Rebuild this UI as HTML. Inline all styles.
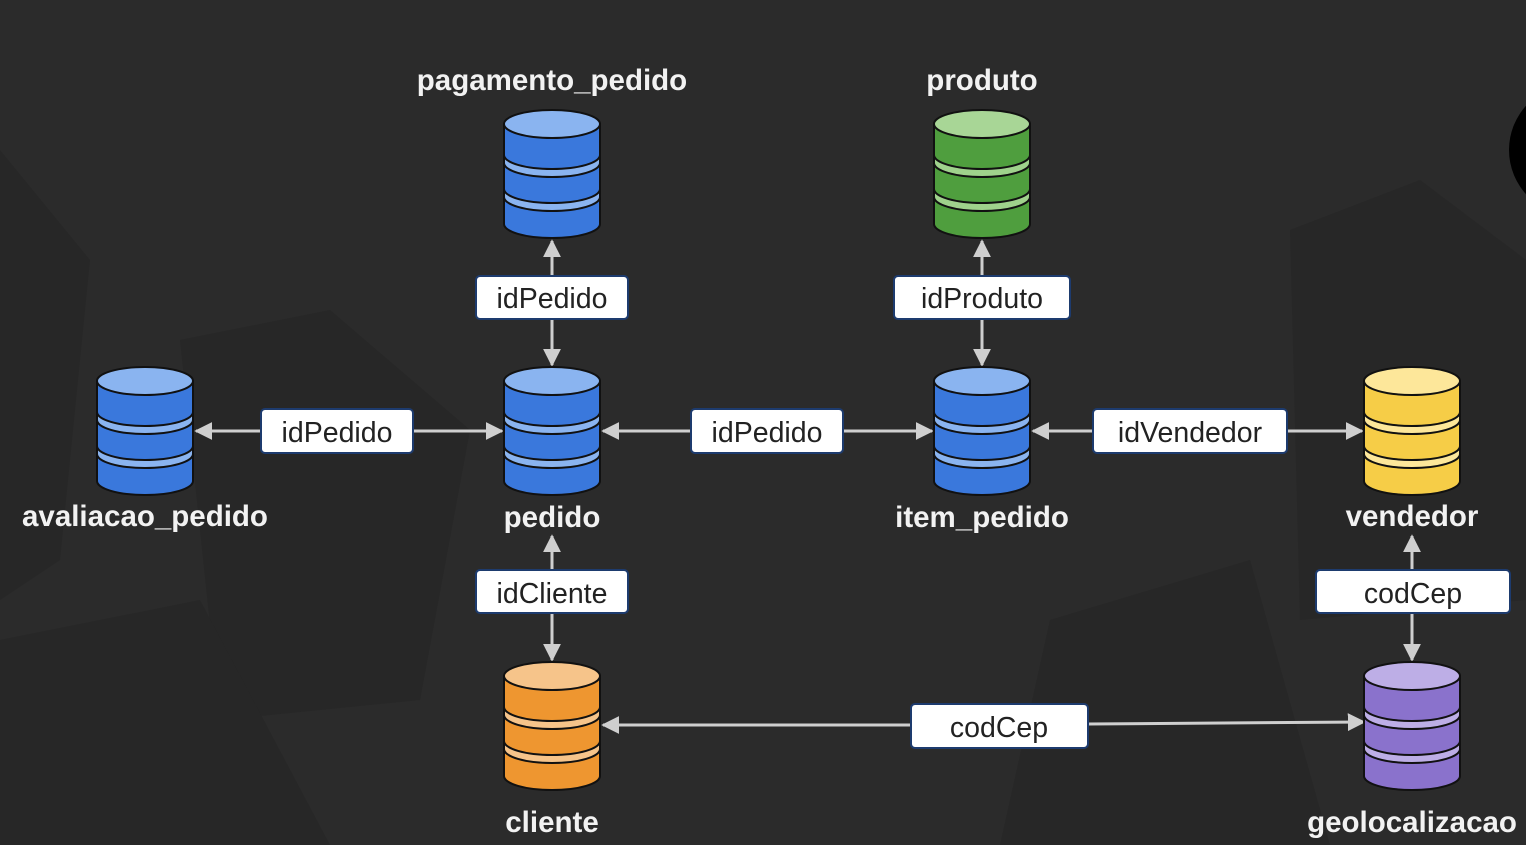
<!DOCTYPE html>
<html><head><meta charset="utf-8"><style>
html,body{margin:0;padding:0;background:#2b2b2b;width:1526px;height:845px;overflow:hidden}
svg{display:block}
.t{font-family:"Liberation Sans",sans-serif;font-weight:bold;font-size:29.5px;fill:#f2f2f2;text-anchor:middle}
.l{font-family:"Liberation Sans",sans-serif;font-size:28.5px;fill:#222;text-anchor:middle}
.b{fill:#fff;stroke:#1d3b6e;stroke-width:2}
.c{stroke:#cfcfcf;stroke-width:3;fill:none}
</style></head><body>
<svg width="1526" height="845" viewBox="0 0 1526 845">
<defs>
<marker id="a" viewBox="0 0 10 10" refX="9" refY="5" markerWidth="6" markerHeight="6" orient="auto-start-reverse"><path d="M0,0 L10,5 L0,10 Z" fill="#cfcfcf"/></marker>
</defs>
<rect width="1526" height="845" fill="#2b2b2b"/>
<g fill="#272727">
<polygon points="0,150 90,260 60,560 0,600"/>
<polygon points="180,340 330,310 470,430 420,700 220,720"/>
<polygon points="1290,230 1420,180 1526,260 1526,600 1300,620"/>
<polygon points="0,640 200,600 330,845 0,845"/>
<polygon points="1050,620 1250,560 1330,845 1000,845"/>
</g>
<circle cx="1575" cy="150" r="66" fill="#000"/>

<g class="c">
<line x1="552" y1="276" x2="552" y2="241" marker-end="url(#a)"/>
<line x1="552" y1="319" x2="552" y2="365" marker-end="url(#a)"/>
<line x1="982" y1="276" x2="982" y2="241" marker-end="url(#a)"/>
<line x1="982" y1="319" x2="982" y2="365" marker-end="url(#a)"/>
<line x1="261" y1="431" x2="196" y2="431" marker-end="url(#a)"/>
<line x1="413" y1="431" x2="502" y2="431" marker-end="url(#a)"/>
<line x1="691" y1="431" x2="603" y2="431" marker-end="url(#a)"/>
<line x1="843" y1="431" x2="932" y2="431" marker-end="url(#a)"/>
<line x1="1093" y1="431" x2="1033" y2="431" marker-end="url(#a)"/>
<line x1="1287" y1="431" x2="1362" y2="431" marker-end="url(#a)"/>
<line x1="552" y1="570" x2="552" y2="536" marker-end="url(#a)"/>
<line x1="552" y1="613" x2="552" y2="660" marker-end="url(#a)"/>
<line x1="1412" y1="570" x2="1412" y2="536" marker-end="url(#a)"/>
<line x1="1412" y1="613" x2="1412" y2="660" marker-end="url(#a)"/>
<line x1="911" y1="725" x2="603" y2="725" marker-end="url(#a)"/>
<line x1="1088" y1="724" x2="1364" y2="722" marker-end="url(#a)"/>
</g>

<g stroke="#111" stroke-width="2">
<g transform="translate(552,110)" fill="#3a78dc"><path d="M-48,14 V114 A48,14 0 0 0 48,114 V14 Z"/><path d="M-48,45 A48,14 0 0 0 48,45 V53 A48,14 0 0 1 -48,53 Z" fill="#8ab4f0"/><path d="M-48,79 A48,14 0 0 0 48,79 V87 A48,14 0 0 1 -48,87 Z" fill="#8ab4f0"/><ellipse cx="0" cy="14" rx="48" ry="14" fill="#8ab4f0"/></g>
<g transform="translate(982,110)" fill="#4f9e3e"><path d="M-48,14 V114 A48,14 0 0 0 48,114 V14 Z"/><path d="M-48,45 A48,14 0 0 0 48,45 V53 A48,14 0 0 1 -48,53 Z" fill="#9fd28c"/><path d="M-48,79 A48,14 0 0 0 48,79 V87 A48,14 0 0 1 -48,87 Z" fill="#9fd28c"/><ellipse cx="0" cy="14" rx="48" ry="14" fill="#a8d696"/></g>
<g transform="translate(145,367)" fill="#3a78dc"><path d="M-48,14 V114 A48,14 0 0 0 48,114 V14 Z"/><path d="M-48,45 A48,14 0 0 0 48,45 V53 A48,14 0 0 1 -48,53 Z" fill="#8ab4f0"/><path d="M-48,79 A48,14 0 0 0 48,79 V87 A48,14 0 0 1 -48,87 Z" fill="#8ab4f0"/><ellipse cx="0" cy="14" rx="48" ry="14" fill="#8ab4f0"/></g>
<g transform="translate(552,367)" fill="#3a78dc"><path d="M-48,14 V114 A48,14 0 0 0 48,114 V14 Z"/><path d="M-48,45 A48,14 0 0 0 48,45 V53 A48,14 0 0 1 -48,53 Z" fill="#8ab4f0"/><path d="M-48,79 A48,14 0 0 0 48,79 V87 A48,14 0 0 1 -48,87 Z" fill="#8ab4f0"/><ellipse cx="0" cy="14" rx="48" ry="14" fill="#8ab4f0"/></g>
<g transform="translate(982,367)" fill="#3a78dc"><path d="M-48,14 V114 A48,14 0 0 0 48,114 V14 Z"/><path d="M-48,45 A48,14 0 0 0 48,45 V53 A48,14 0 0 1 -48,53 Z" fill="#8ab4f0"/><path d="M-48,79 A48,14 0 0 0 48,79 V87 A48,14 0 0 1 -48,87 Z" fill="#8ab4f0"/><ellipse cx="0" cy="14" rx="48" ry="14" fill="#8ab4f0"/></g>
<g transform="translate(1412,367)" fill="#f6cd47"><path d="M-48,14 V114 A48,14 0 0 0 48,114 V14 Z"/><path d="M-48,45 A48,14 0 0 0 48,45 V53 A48,14 0 0 1 -48,53 Z" fill="#fde79a"/><path d="M-48,79 A48,14 0 0 0 48,79 V87 A48,14 0 0 1 -48,87 Z" fill="#fde79a"/><ellipse cx="0" cy="14" rx="48" ry="14" fill="#fde79a"/></g>
<g transform="translate(552,662)" fill="#ee9630"><path d="M-48,14 V114 A48,14 0 0 0 48,114 V14 Z"/><path d="M-48,45 A48,14 0 0 0 48,45 V53 A48,14 0 0 1 -48,53 Z" fill="#f6c48a"/><path d="M-48,79 A48,14 0 0 0 48,79 V87 A48,14 0 0 1 -48,87 Z" fill="#f6c48a"/><ellipse cx="0" cy="14" rx="48" ry="14" fill="#f6c48a"/></g>
<g transform="translate(1412,662)" fill="#8a72cc"><path d="M-48,14 V114 A48,14 0 0 0 48,114 V14 Z"/><path d="M-48,45 A48,14 0 0 0 48,45 V53 A48,14 0 0 1 -48,53 Z" fill="#bdaee6"/><path d="M-48,79 A48,14 0 0 0 48,79 V87 A48,14 0 0 1 -48,87 Z" fill="#bdaee6"/><ellipse cx="0" cy="14" rx="48" ry="14" fill="#bdaee6"/></g>
</g>

<rect class="b" x="476" y="276" width="152" height="43" rx="4"/><text class="l" x="552" y="308">idPedido</text>
<rect class="b" x="894" y="276" width="176" height="43" rx="4"/><text class="l" x="982" y="308">idProduto</text>
<rect class="b" x="261" y="409" width="152" height="44" rx="4"/><text class="l" x="337" y="442">idPedido</text>
<rect class="b" x="691" y="409" width="152" height="44" rx="4"/><text class="l" x="767" y="442">idPedido</text>
<rect class="b" x="1093" y="409" width="194" height="44" rx="4"/><text class="l" x="1190" y="442">idVendedor</text>
<rect class="b" x="476" y="570" width="152" height="43" rx="4"/><text class="l" x="552" y="603">idCliente</text>
<rect class="b" x="1316" y="570" width="194" height="43" rx="4"/><text class="l" x="1413" y="603">codCep</text>
<rect class="b" x="911" y="704" width="177" height="44" rx="4"/><text class="l" x="999" y="737">codCep</text>

<text class="t" x="552" y="90">pagamento_pedido</text>
<text class="t" x="982" y="90">produto</text>
<text class="t" x="145" y="526">avaliacao_pedido</text>
<text class="t" x="552" y="527">pedido</text>
<text class="t" x="982" y="527">item_pedido</text>
<text class="t" x="1412" y="526">vendedor</text>
<text class="t" x="552" y="832">cliente</text>
<text class="t" x="1412" y="832">geolocalizacao</text>
</svg>
</body></html>
